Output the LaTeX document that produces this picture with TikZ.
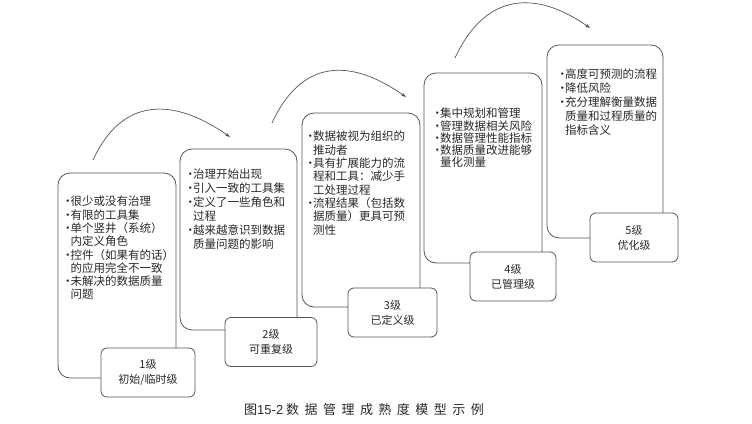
\documentclass[tikz,border=0pt]{standalone}
\usepackage{fontspec}
\usepackage{xcolor}
\usetikzlibrary{arrows.meta}
\setmainfont{Noto Sans CJK SC}
\newfontfamily\numfont{Liberation Sans}
\newfontfamily\capfont[LetterSpace=42]{Noto Sans CJK SC}
\definecolor{linegray}{RGB}{85,85,85}
\definecolor{textgray}{RGB}{40,40,40}
\newcommand{\itm}{\makebox[8.5pt][l]{·}}
\newcommand{\ind}{\makebox[8.5pt]{}}

\begin{document}
\begin{tikzpicture}[x=1pt, y=-1pt,
    stagebox/.style={rectangle, draw=linegray, line width=0.8pt, rounded corners=12pt, inner sep=0pt},
    levelbox/.style={rectangle, draw=linegray, fill=white, line width=0.8pt, rounded corners=6pt,
        minimum width=90pt, minimum height=49pt, align=center, text=textgray, font=\fontsize{11}{15}\selectfont},
    notes/.style={anchor=north west, inner sep=0pt, align=left, text=textgray, font=\fontsize{11.5}{13.3}\selectfont},
    stepline/.style={draw=linegray, line width=0.7pt, -{Stealth[length=5pt,width=3.5pt]}}]
    \useasboundingbox (0,0) rectangle (752,423);

    \node[stagebox, minimum width=118pt, minimum height=205pt] (box1) at (117,275.5) {};
    \node[stagebox, minimum width=117pt, minimum height=181pt] (box2) at (238.5,239.5) {};
    \node[stagebox, minimum width=118pt, minimum height=194pt] (box3) at (361,210) {};
    \node[stagebox, minimum width=118pt, minimum height=190pt] (box4) at (483,168) {};
    \node[stagebox, minimum width=116pt, minimum height=193pt] (box5) at (605,141.5) {};

    \node[notes] (txt1) at (62,196) {\itm 很少或没有治理\\ \itm 有限的工具集\\ \itm 单个竖井（系统）\\ \ind 内定义角色\\
        \itm 控件（如果有的话）\\ \ind 的应用完全不一致\\ \itm 未解决的数据质量\\ \ind 问题};
    \node[notes, font=\fontsize{11.5}{14}\selectfont] (txt2) at (184.5,169) {\itm 治理开始出现\\ \itm 引入一致的工具集\\
        \itm 定义了一些角色和\\ \ind 过程\\ \itm 越来越意识到数据\\ \ind 质量问题的影响};
    \node[notes] (txt3) at (304.5,131) {\itm 数据被视为组织的\\ \ind 推动者\\ \itm 具有扩展能力的流\\ \ind 程和工具：减少手\\
        \ind 工处理过程\\ \itm 流程结果（包括数\\ \ind 据质量）更具可预\\ \ind 测性};
    \node[notes, font=\fontsize{11.5}{12.2}\selectfont] (txt4) at (431.5,108) {\itm 集中规划和管理\\ \itm 管理数据相关风险\\
        \itm 数据管理性能指标\\ \itm 数据质量改进能够\\ \ind 量化测量};
    \node[notes, font=\fontsize{11.5}{14}\selectfont] (txt5) at (556.5,69) {\itm 高度可预测的流程\\ \itm 降低风险\\
        \itm 充分理解衡量数据\\ \ind 质量和过程质量的\\ \ind 指标含义};

    \node[levelbox, minimum width=94pt] (lvl1) at (148,372.5) {1级\\ 初始/临时级};
    \node[levelbox, minimum width=92pt] (lvl2) at (271,342) {2级\\ 可重复级};
    \node[levelbox, minimum width=89pt] (lvl3) at (392.5,312.5) {3级\\ 已定义级};
    \node[levelbox, minimum width=86pt] (lvl4) at (513,276.5) {4级\\ 已管理级};
    \node[levelbox, minimum width=88pt] (lvl5) at (634,237.5) {5级\\ 优化级};

    \coordinate (arc1s) at (93,160);
    \coordinate (arc1e) at (230,137);
    \coordinate (arc2s) at (272,123);
    \coordinate (arc2e) at (406,97);
    \coordinate (arc3s) at (455,58);
    \coordinate (arc3e) at (590,28);
    \draw[stepline] (arc1s) .. controls (122,97) and (173,97) .. (arc1e);
    \draw[stepline] (arc2s) .. controls (301,60) and (349,57) .. (arc2e);
    \draw[stepline] (arc3s) .. controls (484,-5) and (533,-12) .. (arc3e);

    \node[text=textgray, font=\fontsize{13}{15}\selectfont] (caption) at (364,410)
        {{\capfont 图}{\numfont 15-2} {\capfont 数据管理成熟度模型示例}};
\end{tikzpicture}
\end{document}
